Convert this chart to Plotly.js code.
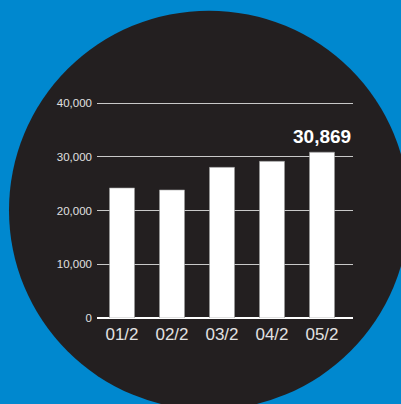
<!DOCTYPE html>
<html>
<head>
<meta charset="utf-8">
<script src="https://cdn.plot.ly/plotly-3.0.1.min.js"></script>
<style>
html,body{margin:0;padding:0;background:#0088CF;}
#chart{width:401px;height:404px;}
</style>
</head>
<body>
<div id="chart"></div>
<script>
const categories = ["01/2", "02/2", "03/2", "04/2", "05/2"];
const values = [24210, 23840, 28050, 29170, 30869];
const yTicks = [0, 10000, 20000, 30000, 40000];
const yTickLabels = ["0", "10,000", "20,000", "30,000", "40,000"];
const highlightLabel = "30,869";

const W = 401, H = 404;
const L = 97, R = 48, B = 86;
const yMax = 40400;
const T = (H - B) - 215.3 * yMax / 40000;
const pw = W - L - R, ph = H - T - B;
function px2x(px){ return (px - L) / pw; }
function py2y(py){ return (H - B - py) / ph; }

const trace = {
  type: "bar",
  x: categories,
  y: values,
  marker: {color: "#ffffff", line: {color: "#9a9a9a", width: 0.6}},
  hoverinfo: "skip"
};

const layout = {
  width: W, height: H,
  margin: {l: L, r: R, t: T, b: B, pad: 0},
  paper_bgcolor: "#0088CF",
  plot_bgcolor: "rgba(0,0,0,0)",
  showlegend: false,
  bargap: 0.5,
  font: {family: "Liberation Sans, Arial, sans-serif", color: "#dddddd"},
  xaxis: {
    type: "category",
    showgrid: false,
    showline: false,
    zeroline: false,
    ticks: "",
    tickfont: {size: 17, color: "#e2e2e2"},
    ticklabelstandoff: 4
  },
  yaxis: {
    range: [0, yMax],
    tickvals: yTicks,
    ticktext: yTickLabels,
    showgrid: true,
    gridcolor: "#c8c8c8",
    gridwidth: 1,
    zeroline: true,
    zerolinecolor: "#ffffff",
    zerolinewidth: 2,
    showline: false,
    ticks: "",
    tickfont: {size: 11.5, color: "#e0e0e0"},
    ticklabelstandoff: 4,
    fixedrange: true
  },
  shapes: [{
    type: "circle",
    xref: "paper", yref: "paper",
    x0: px2x(9), x1: px2x(409),
    y0: py2y(410), y1: py2y(10),
    fillcolor: "#231F20",
    line: {width: 0},
    layer: "below"
  }],
  annotations: [{
    x: categories[4], y: values[4],
    xref: "x", yref: "y",
    text: "<b>" + highlightLabel + "</b>",
    showarrow: false,
    yanchor: "bottom",
    yshift: 3,
    xshift: 0,
    font: {size: 19, color: "#ffffff", family: "Liberation Sans, Arial, sans-serif"}
  }]
};

Plotly.newPlot("chart", [trace], layout, {displayModeBar: false, staticPlot: true});
</script>
</body>
</html>
